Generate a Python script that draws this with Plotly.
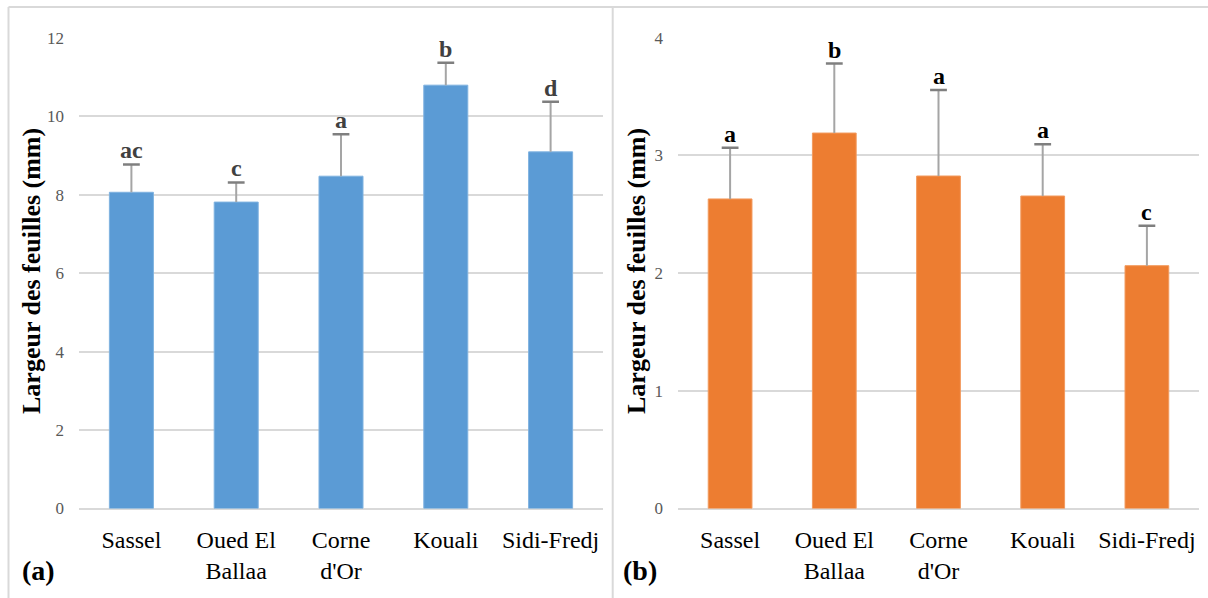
import plotly.graph_objects as go

# Sites and measured leaf widths (mm) with standard deviations
sites = ["Sassel", "Oued El<br>Ballaa", "Corne<br>d'Or", "Kouali", "Sidi-Fredj"]

width_a = [8.06, 7.81, 8.47, 10.79, 9.09]
sd_a = [0.71, 0.50, 1.07, 0.57, 1.28]
letters_a = ["ac", "c", "a", "b", "d"]

width_b = [2.63, 3.19, 2.825, 2.655, 2.063]
sd_b = [0.435, 0.59, 0.73, 0.44, 0.34]
letters_b = ["a", "b", "a", "a", "c"]

W, H = 1208, 598
SERIF = "Liberation Serif, Times New Roman, serif"
BLUE = "#5B9BD5"
ORANGE = "#ED7D31"
GRID = "#d9d9d9"


def px_x(p):
    return p / W


def px_y(p):
    return 1 - p / H


fig = go.Figure()


def add_panel(values, errs, letters, color, edge, letter_color, xa, ya):
    tops = [v + e for v, e in zip(values, errs)]
    fig.add_trace(go.Bar(
        x=sites, y=values, width=0.42,
        marker=dict(color=color, line=dict(width=1, color=edge)),
        error_y=dict(type="data", symmetric=False, array=errs,
                     arrayminus=[0] * len(errs), width=0,
                     thickness=2, color="#a5a5a5"),
        xaxis=xa, yaxis=ya, showlegend=False, hoverinfo="skip",
    ))
    # end caps of the error bars
    fig.add_trace(go.Scatter(
        x=sites, y=tops, mode="markers",
        marker=dict(symbol="line-ew", size=12,
                    line=dict(color="#7f7f7f", width=2.5)),
        xaxis=xa, yaxis=ya, showlegend=False, hoverinfo="skip",
    ))
    for s, t, lab in zip(sites, tops, letters):
        fig.add_annotation(
            x=s, y=t, xref=xa, yref=ya, text=f"<b>{lab}</b>",
            showarrow=False, yanchor="bottom", yshift=-1,
            font=dict(family=SERIF, size=24, color=letter_color),
        )


add_panel(width_a, sd_a, letters_a, BLUE, "#7fb2e0", "#404040", "x", "y")
add_panel(width_b, sd_b, letters_b, ORANGE, "#f29a5e", "#000000", "x2", "y2")

ydom = [px_y(508.5), px_y(37.7)]

xaxis_common = dict(
    type="category", showgrid=False, showline=False, zeroline=False,
    ticks="", ticklabelstandoff=14, automargin=False,
    tickfont=dict(family=SERIF, size=24, color="#000000"),
    fixedrange=True,
)
yaxis_common = dict(
    showgrid=True, gridcolor=GRID, gridwidth=1.5, zeroline=True,
    zerolinecolor=GRID, zerolinewidth=1.5, showline=False, ticks="",
    ticklabelstandoff=14, automargin=False,
    tickfont=dict(family=SERIF, size=17, color="#595959"),
    fixedrange=True,
)

fig.update_layout(
    template="none",
    width=W, height=H,
    margin=dict(l=0, r=0, t=0, b=0, pad=0, autoexpand=False),
    paper_bgcolor="white", plot_bgcolor="white",
    bargap=0.58,
    xaxis=dict(domain=[px_x(79), px_x(603)], anchor="y", **xaxis_common),
    yaxis=dict(domain=ydom, range=[0, 12], dtick=2, anchor="x", **yaxis_common),
    xaxis2=dict(domain=[px_x(678), px_x(1199)], anchor="y2", **xaxis_common),
    yaxis2=dict(domain=ydom, range=[0, 4], dtick=1, anchor="x2", **yaxis_common),
)

# y-axis titles
for xp in (31, 636):
    fig.add_annotation(
        x=px_x(xp), y=px_y(271), xref="paper", yref="paper",
        text="<b>Largeur des feuilles (mm)</b>", textangle=-90,
        showarrow=False, xanchor="center", yanchor="middle",
        font=dict(family=SERIF, size=26, color="#000000"),
    )

# panel tags
for xp, tag in ((20, "(a)"), (621, "(b)")):
    fig.add_annotation(
        x=px_x(xp), y=px_y(570), xref="paper", yref="paper",
        text=f"<b>{tag}</b>", showarrow=False,
        xanchor="left", yanchor="middle",
        font=dict(family=SERIF, size=28, color="#000000"),
    )

# frame lines around the two panels
frame = dict(color=GRID, width=2)
fig.add_shape(type="line", xref="paper", yref="paper",
              x0=px_x(8.5), x1=1, y0=px_y(7), y1=px_y(7), line=frame)
fig.add_shape(type="line", xref="paper", yref="paper",
              x0=px_x(8.5), x1=px_x(8.5), y0=px_y(7), y1=0, line=frame)
fig.add_shape(type="line", xref="paper", yref="paper",
              x0=px_x(612.7), x1=px_x(612.7), y0=px_y(7), y1=0, line=frame)

# page without body margin so the figure fills the window exactly
html = fig.to_html(full_html=True)
html = html.replace(
    "<head>",
    "<head><style>html,body{margin:0;padding:0;overflow:hidden;}</style>",
    1,
)
with open("out.html", "w", encoding="utf-8") as fh:
    fh.write(html)
